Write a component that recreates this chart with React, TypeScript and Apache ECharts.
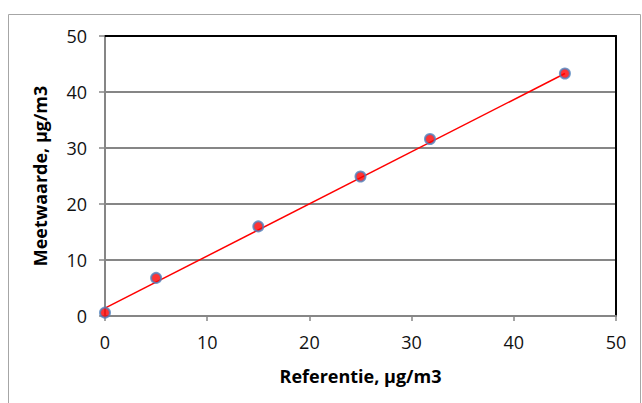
import React, { useEffect, useRef } from "react";
import * as echarts from "echarts";

// Reference concentrations (x) and measured values (y), µg/m3
const referentie = [0, 5, 15, 25, 31.8, 45];
const meetwaarde = [0.6, 6.8, 16.0, 24.9, 31.6, 43.3];

// Linear trendline end points
const trendX = [0, 45];
const trendY = [1.4, 43.3];

const xTitle = "Referentie, µg/m3";
const yTitle = "Meetwaarde, µg/m3";

const FONT = "'Open Sans', Lato, sans-serif";

export default function App() {
  const ref = useRef<HTMLDivElement>(null);

  useEffect(() => {
    if (!ref.current) return;
    const chart = echarts.init(ref.current, null, { renderer: "svg" });
    const points = referentie.map((x, i) => [x, meetwaarde[i]]);
    const trend = trendX.map((x, i) => [x, trendY[i]]);
    const grey = "#868686";

    chart.setOption({
      animation: false,
      backgroundColor: "#ffffff",
      grid: { left: 105, right: 26, top: 36, bottom: 87 },
      graphic: [
        {
          type: "rect",
          shape: { x: 8.5, y: 14.5, width: 632, height: 400 },
          style: { fill: "none", stroke: "#a6a6a6", lineWidth: 1 },
          z: -10,
        },
      ],
      xAxis: [
        {
          type: "value",
          min: 0,
          max: 50,
          interval: 10,
          axisLine: { show: true, lineStyle: { color: grey, width: 2 } },
          axisTick: { show: true, length: 5, lineStyle: { color: grey, width: 1.5 } },
          axisLabel: { color: "#111", fontSize: 18, fontFamily: FONT, margin: 17 },
          splitLine: { show: false },
          name: xTitle,
          nameLocation: "middle",
          nameGap: 51,
          nameTextStyle: { color: "#000", fontSize: 18, fontWeight: "bold", fontFamily: FONT },
        },
        {
          type: "value",
          position: "top",
          min: 0,
          max: 50,
          axisLine: { show: true, onZero: false, lineStyle: { color: "#000", width: 2 } },
          axisTick: { show: false },
          axisLabel: { show: false },
          splitLine: { show: false },
        },
      ],
      yAxis: [
        {
          type: "value",
          min: 0,
          max: 50,
          interval: 10,
          axisLine: { show: true, lineStyle: { color: grey, width: 2 } },
          axisTick: { show: true, length: 6, lineStyle: { color: grey, width: 1.5 } },
          axisLabel: { color: "#111", fontSize: 18, fontFamily: FONT, margin: 18 },
          splitLine: { show: true, showMaxLine: false, lineStyle: { color: grey, width: 2 } },
          name: yTitle,
          nameLocation: "middle",
          nameGap: 56,
          nameTextStyle: { color: "#000", fontSize: 18, fontWeight: "bold", fontFamily: FONT },
        },
        {
          type: "value",
          position: "right",
          min: 0,
          max: 50,
          axisLine: { show: true, onZero: false, lineStyle: { color: "#000", width: 2 } },
          axisTick: { show: false },
          axisLabel: { show: false },
          splitLine: { show: false },
        },
      ],
      series: [
        {
          type: "line",
          data: trend,
          showSymbol: false,
          symbol: "none",
          lineStyle: { color: "#ff0000", width: 1.5 },
          z: 2,
        },
        {
          type: "scatter",
          data: points,
          symbol: "circle",
          symbolSize: 10,
          itemStyle: { color: "#ff0000", borderColor: "#4f81bd", borderWidth: 2 },
          z: 3,
        },
      ],
    });
    return () => chart.dispose();
  }, []);

  return (
    <div
      ref={ref}
      style={{ position: "absolute", left: 0, top: 0, width: 642, height: 403 }}
    />
  );
}
